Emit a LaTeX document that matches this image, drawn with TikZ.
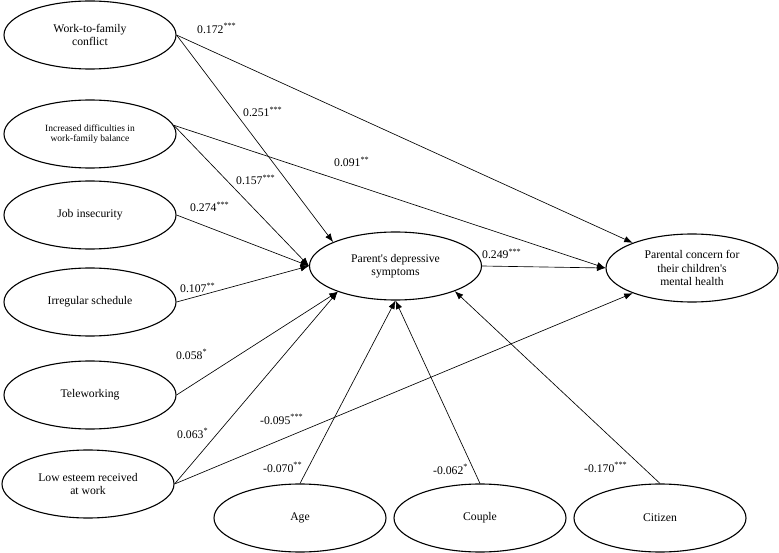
\documentclass[tikz,border=0pt]{standalone}
\usepackage{fontspec}
\setmainfont{Liberation Serif}
\newfontfamily\plainserif{Liberation Serif}
\usetikzlibrary{arrows.meta,shapes.geometric}
\begin{document}
\begin{tikzpicture}[x=1pt,y=-1pt,
  var/.style={draw,ellipse,line width=1.1pt,minimum width=172pt,minimum height=68pt,inner sep=0pt,align=center,font=\plainserif\fontsize{11.7}{13.5}\selectfont},
  conn/.style={line width=0.65pt,-{Latex[length=8.5pt,width=6.5pt]}},
  coef/.style={anchor=base west,inner sep=0pt,font=\plainserif\fontsize{11.7}{13}\selectfont}
]
\useasboundingbox (0,0) rectangle (779,553);
\node[var] (wfc) at (90,35) {Work-to-family\\conflict};
\node[var,font=\plainserif\fontsize{9.5}{10.5}\selectfont] (idwb) at (90,134) {Increased difficulties in\\work-family balance};
\node[var] (js) at (90,215) {Job insecurity};
\node[var] (irr) at (90,302) {Irregular schedule};
\node[var] (tele) at (90,395) {Teleworking};
\node[var] (low) at (88,484) {Low esteem received\\at work};
\node[var] (age) at (300,518) {Age};
\node[var] (couple) at (480,518) {Couple};
\node[var] (cit) at (660,518) {Citizen};
\node[var] (pds) at (395.5,266) {Parent's depressive\\symptoms};
\node[var] (pc) at (692,268) {Parental concern for\\their children's\\mental health};

\draw[conn] (wfc.east) -- (pc.157);
\draw[conn] (wfc.east) -- (pds.159);
\draw[conn] (idwb.6) -- (pc.west);
\draw[conn] (idwb.6) -- (pds.west);
\draw[conn] (js.east) -- (pds.west);
\draw[conn] (irr.east) -- (pds.west);
\draw[conn] (tele.east) -- (pds.204);
\draw[conn] (low.east) -- (pds.204);
\draw[conn] (low.east) -- (pc.203);
\draw[conn] (age.north) -- (pds.south);
\draw[conn] (couple.north) -- (pds.south);
\draw[conn] (cit.north) -- (pds.337);
\draw[conn] (pds.east) -- (pc.west);

\node[coef] (l1) at (197,33.3) {0.172\textsuperscript{***}};
\node[coef] (l2) at (243,117) {0.251\textsuperscript{***}};
\node[coef] (l3) at (236,185) {0.157\textsuperscript{***}};
\node[coef] (l4) at (334,167) {0.091\textsuperscript{**}};
\node[coef] (l5) at (190,212) {0.274\textsuperscript{***}};
\node[coef] (l6) at (180,293) {0.107\textsuperscript{**}};
\node[coef] (l7) at (176,359) {0.058\textsuperscript{*}};
\node[coef] (l8) at (177,438) {0.063\textsuperscript{*}};
\node[coef] (l9) at (260,424) {-0.095\textsuperscript{***}};
\node[coef] (l10) at (263,472) {-0.070\textsuperscript{**}};
\node[coef] (l11) at (433,474) {-0.062\textsuperscript{*}};
\node[coef] (l12) at (584,472) {-0.170\textsuperscript{***}};
\node[coef] (l13) at (482,259) {0.249\textsuperscript{***}};
\end{tikzpicture}
\end{document}
